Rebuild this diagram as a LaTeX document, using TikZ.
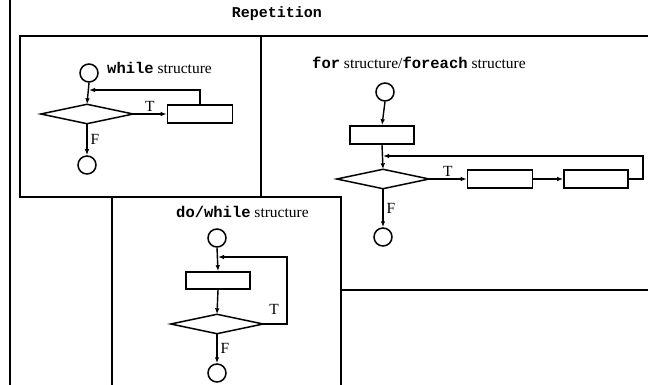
\documentclass[tikz,border=0pt]{standalone}
\usepackage{fontspec}
\setmainfont{Liberation Serif}
\setmonofont{Liberation Mono}
\usetikzlibrary{arrows.meta}
\tikzset{
  frameline/.style={line width=2.2pt},
  circ/.style={circle,draw,line width=1.5pt,minimum size=18pt,inner sep=0pt},
  procbox/.style={rectangle,draw,line width=1.6pt,minimum height=18pt,inner sep=0pt},
  decis/.style={rectangle,minimum width=92pt,minimum height=19pt,inner sep=0pt},
  decisline/.style={line width=1.5pt,line join=miter},
  arr/.style={line width=1.4pt,-{Latex[length=6pt,width=4.5pt]}},
  lbl/.style={inner sep=0pt,font=\fontsize{15.5}{17}\selectfont},
}
\begin{document}
\begin{tikzpicture}[x=1pt,y=-1pt]
\useasboundingbox (0,0) rectangle (648,385);
% frames
\draw[frameline] (10,0) -- (10,385);
\draw[frameline] (20,36) rectangle (261,197);
\draw[frameline] (261,197) -- (261,36) -- (648,36);
\draw[frameline] (341,290) -- (648,290);
\draw[frameline] (112,385) -- (112,197) -- (341,197) -- (341,385);
% title
\node[inner sep=0pt,font=\fontsize{15}{17}\selectfont\ttfamily\bfseries] (title) at (277,14) {Repetition};

% while structure
\node[lbl,anchor=west] (wl) at (107,68) {{\ttfamily\bfseries while} structure};
\node[circ] (ws) at (89,73) {};
\node[decis] (wd) at (87,114) {};
\draw[decisline] (wd.west) -- (wd.north) -- (wd.east) -- (wd.south) -- cycle;
\node[procbox,minimum width=65pt] (wr) at (200,114) {};
\node[circ] (we) at (87,165) {};
\coordinate (wj) at (89,90);
\draw[arr] (ws.south) -- (wd.north);
\draw[arr] (wr.north) |- (wj);
\draw[arr] (wd.east) -- node[lbl,above=2pt] (wt) {T} (wr.west);
\draw[arr] (wd.south) -- node[lbl,right=3pt] (wf) {F} (we.north);

% for structure
\node[lbl,anchor=west] (fl) at (312,63) {{\ttfamily\bfseries for} structure/{\ttfamily\bfseries foreach} structure};
\node[circ] (fs) at (385,92) {};
\node[procbox,minimum width=64pt] (fr1) at (382,135) {};
\node[decis] (fd) at (383,179) {};
\draw[decisline] (fd.west) -- (fd.north) -- (fd.east) -- (fd.south) -- cycle;
\node[procbox,minimum width=65pt] (fr2) at (500,179) {};
\node[procbox,minimum width=64pt] (fr3) at (596,179) {};
\node[circ] (fe) at (383,237) {};
\coordinate (fj) at (383,156);
\draw[arr] (fs.south) -- (fr1.north);
\draw[arr] (fr1.south) -- (fd.north);
\draw[arr] (fd.east) -- node[lbl,above=2pt] (ft) {T} (fr2.west);
\draw[arr] (fr2.east) -- (fr3.west);
\draw[arr] (fr3.east) -- ++(14,0) |- (fj);
\draw[arr] (fd.south) -- node[lbl,right=3pt] (ff) {F} (fe.north);

% do/while structure
\node[lbl,anchor=west] (dl) at (176,212) {{\ttfamily\bfseries do/while} structure};
\node[circ] (ds) at (217,238) {};
\node[procbox,minimum width=64pt,minimum height=17pt] (dr) at (218,280.5) {};
\node[decis] (dd) at (217,324) {};
\draw[decisline] (dd.west) -- (dd.north) -- (dd.east) -- (dd.south) -- cycle;
\node[circ] (de) at (217,373) {};
\coordinate (dj) at (218,257);
\coordinate (dk) at (287,257);
\draw[arr] (ds.south) -- (dr.north);
\draw[arr] (dr.south) -- (dd.north);
\draw[arr] (dd.east) -| (dk) -- (dj);
\node[lbl] (dt) at (274,309) {T};
\draw[arr] (dd.south) -- node[lbl,right=3pt] (df) {F} (de.north);
\end{tikzpicture}
\end{document}
